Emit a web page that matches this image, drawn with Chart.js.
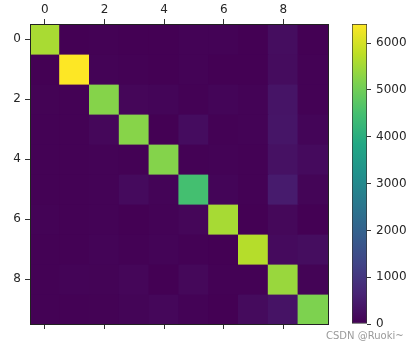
<!DOCTYPE html>
<html><head><meta charset="utf-8">
<script src="https://cdn.jsdelivr.net/npm/chart.js@4/dist/chart.umd.min.js"></script>
<style>
html,body{margin:0;padding:0;background:#fff;width:419px;height:346px;overflow:hidden}
#wrap{position:relative;width:419px;height:346px}
canvas{position:absolute;left:0;top:0}
#wm{position:absolute;left:326px;top:330px;font:10px "DejaVu Sans",sans-serif;color:#9a9a9a;white-space:nowrap}
</style></head><body>
<div id="wrap"><canvas id="m" width="419" height="346"></canvas><canvas id="cb" width="419" height="346"></canvas><div id="wm">CSDN @Ruoki~</div></div>
<script>
// ---- data ----
const classes = ['0','1','2','3','4','5','6','7','8','9'];
const row0 = [5578, 0, 22, 7, 8, 45, 35, 5, 222, 1];
const row1 = [0, 6410, 35, 26, 4, 44, 4, 8, 198, 13];
const row2 = [28, 27, 5232, 100, 74, 27, 68, 37, 354, 11];
const row3 = [23, 18, 115, 5254, 2, 209, 26, 38, 373, 73];
const row4 = [11, 14, 45, 12, 5219, 11, 33, 26, 299, 172];
const row5 = [26, 16, 31, 173, 54, 4484, 76, 14, 482, 65];
const row6 = [31, 17, 45, 2, 42, 98, 5556, 3, 123, 1];
const row7 = [20, 10, 53, 27, 50, 13, 3, 5696, 173, 220];
const row8 = [17, 64, 47, 91, 3, 125, 24, 11, 5421, 48];
const row9 = [24, 18, 29, 67, 116, 39, 1, 174, 329, 5152];
const matrix = [row0,row1,row2,row3,row4,row5,row6,row7,row8,row9];
const axisTicks = [0, 2, 4, 6, 8];
const colorbarTicks = [0, 1000, 2000, 3000, 4000, 5000, 6000];

// ---- viridis colormap ----
const viridisStops = ['#440154','#482475','#414487','#355f8d','#2a788e','#21918c','#22a884','#44bf70','#7ad151','#bddf26','#fde725'];
function hex(h){return [parseInt(h.slice(1,3),16),parseInt(h.slice(3,5),16),parseInt(h.slice(5,7),16)];}
function viridis(t){
  t=Math.max(0,Math.min(1,t));
  const p=t*(viridisStops.length-1); const i=Math.min(Math.floor(p),viridisStops.length-2); const f=p-i;
  const a=hex(viridisStops[i]), b=hex(viridisStops[i+1]);
  return 'rgb('+a.map((v,k)=>Math.round(v+(b[k]-v)*f)).join(',')+')';
}
const vmin = 0;
const vmax = Math.max(...matrix.flat());

const FONT = {family:'"DejaVu Sans", sans-serif', size:12};
const TXT = '#262626';
Chart.defaults.devicePixelRatio = 1;

const datasets = matrix.map((row, r) => ({
  data: row.map(() => [r - 0.5, r + 0.5]),
  backgroundColor: row.map(v => viridis((v - vmin) / (vmax - vmin))),
  borderWidth: 0,
  inflateAmount: 0.6,
  barPercentage: 1, categoryPercentage: 1, grouped: false
}));

new Chart(document.getElementById('m'), {
  type: 'bar',
  data: {labels: classes, datasets},
  options: {
    responsive: false, animation: false,
    layout: {padding: {left: 0, right: 91, top: 0, bottom: 0}},
    plugins: {legend: {display: false}, tooltip: {enabled: false}},
    scales: {
      x: {
        type: 'category', position: 'top', offset: true,
        grid: {offset: false, drawOnChartArea: false, tickLength: 5, color: '#333'},
        border: {color: '#222', width: 1, z: 1},
        ticks: {font: FONT, color: TXT, padding: 2, maxRotation: 0, autoSkip: false},
        afterBuildTicks: a => { a.ticks = a.ticks.filter(t => axisTicks.includes(t.value)); },
        afterFit: a => { a.height = 24; }
      },
      x2: {
        type: 'category', position: 'bottom', offset: true, labels: classes,
        grid: {offset: false, drawOnChartArea: false, tickLength: 5, color: '#333'},
        border: {color: '#222', width: 1, z: 1},
        ticks: {display: false, autoSkip: false},
        afterBuildTicks: a => { a.ticks = a.ticks.filter(t => axisTicks.includes(t.value)); },
        afterFit: a => { a.height = 22; }
      },
      y: {
        type: 'linear', position: 'left', min: -0.5, max: 9.5, reverse: true,
        grid: {drawOnChartArea: false, tickLength: 5, color: '#333'},
        border: {color: '#222', width: 1, z: 1},
        ticks: {font: FONT, color: TXT, padding: 4, callback: v => String(v)},
        afterBuildTicks: a => { a.ticks = axisTicks.map(v => ({value: v})); },
        afterFit: a => { a.width = 30; }
      },
      y2: {
        type: 'linear', position: 'right', display: true,
        grid: {drawOnChartArea: false, drawTicks: false},
        border: {color: '#222', width: 1, z: 1},
        ticks: {display: false},
        afterFit: a => { a.width = 0; }
      }
    }
  }
});

// ---- colorbar ----
function cbGradient(ctx){
  const ch = ctx.chart, a = ch.chartArea;
  if (!a) return viridis(0.5);
  const g = ch.ctx.createLinearGradient(0, a.bottom, 0, a.top);
  viridisStops.forEach((c, i) => g.addColorStop(i / (viridisStops.length - 1), c));
  return g;
}
new Chart(document.getElementById('cb'), {
  type: 'bar',
  data: {labels: ['cb'], datasets: [{
    data: [[vmin, vmax]], backgroundColor: cbGradient,
    borderColor: '#333', borderWidth: 1, borderSkipped: false,
    barPercentage: 1, categoryPercentage: 1
  }]},
  options: {
    responsive: false, animation: false,
    layout: {padding: {left: 352, right: 0, top: 24, bottom: 22}},
    plugins: {legend: {display: false}, tooltip: {enabled: false}},
    scales: {
      x: {display: false},
      y: {
        type: 'linear', position: 'right', min: vmin, max: vmax,
        grid: {drawOnChartArea: false, tickLength: 4, color: '#333'},
        border: {display: false},
        ticks: {font: FONT, color: TXT, padding: 5, callback: v => String(v)},
        afterBuildTicks: a => { a.ticks = colorbarTicks.map(v => ({value: v})); },
        afterFit: a => { a.width = 52; }
      }
    }
  }
});
</script>
</body></html>
